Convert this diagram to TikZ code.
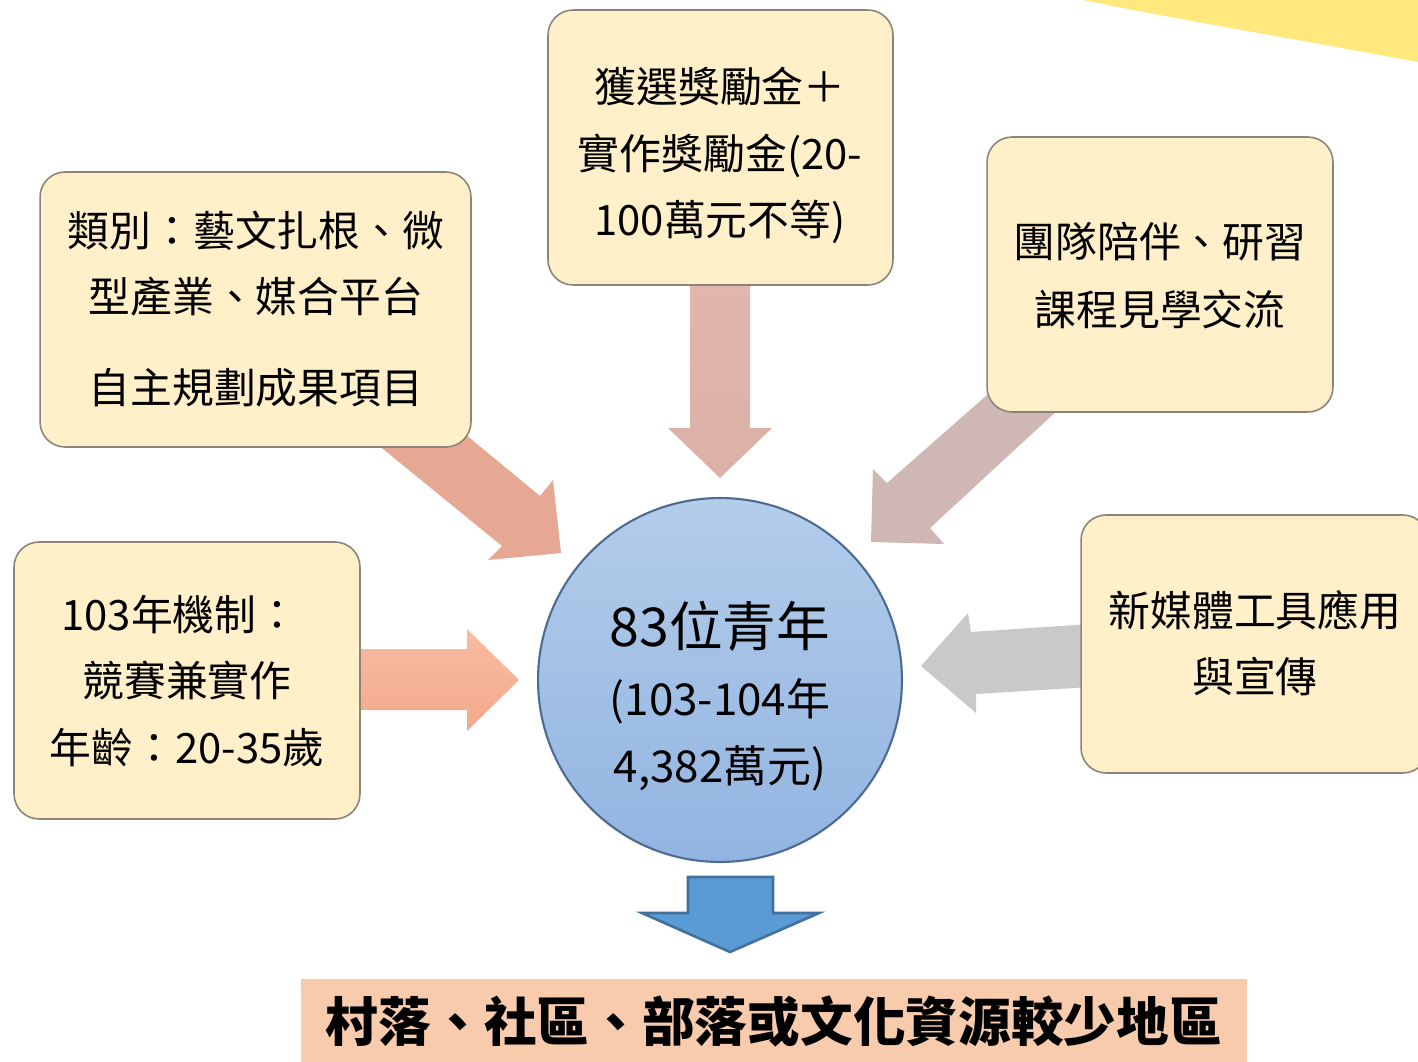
\documentclass[tikz,border=0pt]{standalone}
\usepackage{fontspec}
\setmainfont{Noto Sans CJK TC}
\usetikzlibrary{shadings}
\definecolor{boxfill}{HTML}{FFF0CA}
\definecolor{boxline}{HTML}{8A8578}
\definecolor{sunyellow}{HTML}{FFE97E}
\definecolor{arrA}{HTML}{E6A893}
\definecolor{arrBtop}{HTML}{E2B6AD}
\definecolor{arrBbot}{HTML}{DBB0A7}
\definecolor{arrC}{HTML}{CEB7B5}
\definecolor{arrD}{HTML}{C9C9C9}
\definecolor{arrEtop}{HTML}{F7BBA2}
\definecolor{arrEbot}{HTML}{F5A98A}
\definecolor{circtop}{HTML}{B3CDEA}
\definecolor{circbot}{HTML}{92B4E1}
\definecolor{circline}{HTML}{4E6B94}
\definecolor{downfill}{HTML}{5B9BD5}
\definecolor{downline}{HTML}{41719C}
\definecolor{banner}{HTML}{F8CBAD}
\tikzset{
  infobox/.style={draw=boxline, line width=0.9pt, fill=boxfill, rounded corners=0.5cm, inner sep=0pt},
  boxtext/.style={inner sep=0pt, font=\fontsize{23.8}{28}\selectfont, text=black},
  circtext/.style={inner sep=0pt, font=\fontsize{25}{30}\selectfont, text=black},
}
\begin{document}
\begin{tikzpicture}[x=0.02cm, y=-0.02cm]
\clip (0,0) rectangle (1418,1062);
\fill[white] (0,0) rectangle (1418,1062);
% yellow corner shape
\fill[sunyellow] (1083,0) -- (1418,0) -- (1418,62) .. controls (1300,40) and (1180,20) .. (1083,0) -- cycle;
% block arrows
\fill[arrA] (372,440) -- (460,430) -- (540,496) -- (553,480) -- (561,553) -- (488,560) -- (502,546) -- cycle;
\shade[top color=arrBtop, bottom color=arrBbot] (690,280) -- (750,280) -- (750,428) -- (772,428) -- (720,478) -- (668,428) -- (690,428) -- cycle;
\fill[arrC] (995,388) -- (1060,408) -- (930,528) -- (944,544) -- (871,542) -- (873,469) -- (887,483) -- cycle;
\fill[arrD] (1090,624) -- (1090,687) -- (976,694) -- (976,713) -- (921,666) -- (968,613) -- (971,632) -- cycle;
\shade[top color=arrEtop, bottom color=arrEbot] (350,649) -- (467,649) -- (467,629) -- (519,680) -- (467,731) -- (467,710) -- (350,710) -- cycle;
% boxes
\node[infobox, minimum width=8.62cm, minimum height=5.5cm] (b1) at (255.5,309.5) {};
\node[infobox, minimum width=6.9cm, minimum height=5.5cm] (b2) at (720.5,147.5) {};
\node[infobox, minimum width=6.92cm, minimum height=5.5cm] (b3) at (1160,274.5) {};
\node[infobox, minimum width=6.92cm, minimum height=5.54cm] (b4) at (187,680.5) {};
\node[infobox, minimum width=6.94cm, minimum height=5.16cm] (b5) at (1254.5,644) {};
% box texts
\node[boxtext] (t1a) at (256,231) {類別：藝文扎根、微};
\node[boxtext] (t1b) at (256,297) {型產業、媒合平台};
\node[boxtext] (t1c) at (256,388) {自主規劃成果項目};
\node[boxtext] (t2a) at (720,86) {獲選獎勵金＋};
\node[boxtext] (t2b) at (720,156) {實作獎勵金(20-};
\node[boxtext] (t2c) at (720,222) {100萬元不等)};
\node[boxtext] (t3a) at (1160,242) {團隊陪伴、研習};
\node[boxtext] (t3b) at (1160,309) {課程見學交流};
\node[boxtext] (t4a) at (180,615) {103年機制：};
\node[boxtext] (t4b) at (187,681) {競賽兼實作};
\node[boxtext] (t4c) at (187,748) {年齡：20-35歲};
\node[boxtext] (t5a) at (1255,610) {新媒體工具應用};
\node[boxtext] (t5b) at (1255,677) {與宣傳};
% circle
\node[circle, draw=circline, line width=1.2pt, top color=circtop, bottom color=circbot, minimum size=7.28cm, inner sep=0pt] (c) at (720,680) {};
\node[inner sep=0pt, font=\fontsize{30.5}{36}\selectfont] (c1) at (720,626) {83位青年};
\node[circtext] (c2) at (720,701) {(103-104年};
\node[circtext] (c3) at (720,768) {4,382萬元)};
% bottom arrow
\draw[downline, line width=1.5pt, fill=downfill, line join=miter] (688,877) -- (773,877) -- (773,913) -- (819,913) -- (730,952) -- (642,913) -- (688,913) -- cycle;
% banner
\node[fill=banner, minimum width=18.92cm, minimum height=1.7cm, inner sep=0pt] (bn) at (774,1021) {};
\node[inner sep=0pt, font=\fontsize{30}{36}\selectfont\bfseries] (bnt) at (774,1021) {村落、社區、部落或文化資源較少地區};
\end{tikzpicture}
\end{document}
